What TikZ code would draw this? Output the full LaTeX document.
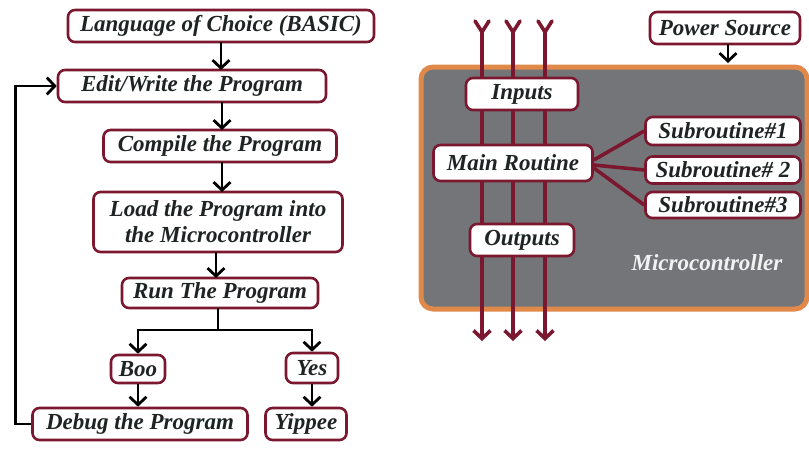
\documentclass[tikz,border=0pt]{standalone}
\usepackage{fontspec}
\setmainfont{Liberation Serif}
\usetikzlibrary{arrows.meta}
\definecolor{dred}{HTML}{7B1830}
\definecolor{mgray}{HTML}{737578}
\definecolor{morange}{HTML}{E0894A}
\definecolor{txt}{HTML}{1E2424}
\tikzset{
  box/.style={draw=dred, line width=2.6pt, fill=white, rounded corners=7pt, inner sep=0pt,
    font=\fontsize{23}{26}\selectfont\bfseries\itshape, text=txt, align=center},
  blk/.style={line width=2.8pt, -{Straight Barb[length=8pt,width=17pt]}},
  blkline/.style={line width=2.8pt},
  rline/.style={draw=dred, line width=3.6pt},
  rarrow/.style={draw=dred, line width=3.6pt, -{Straight Barb[length=8pt,width=17pt]}},
}
\begin{document}
\begin{tikzpicture}[x=1pt,y=-1pt]
\useasboundingbox (0,0) rectangle (809,450);
% ---------- left flowchart ----------
\node[box, minimum width=306pt, minimum height=32pt] (lang) at (221,26) {Language of Choice (BASIC)};
\node[box, minimum width=268pt, minimum height=32pt] (edit) at (192,86) {Edit/Write the Program};
\node[box, minimum width=233pt, minimum height=32pt] (comp) at (220,146) {Compile the Program};
\node[box, minimum width=249pt, minimum height=60pt] (load) at (218,222) {Load the Program into\\the Microcontroller};
\node[box, minimum width=196pt, minimum height=30pt] (run) at (220,293) {Run The Program};
\node[box, minimum width=54pt, minimum height=28pt] (boo) at (138,369) {Boo};
\node[box, minimum width=52pt, minimum height=30pt] (yes) at (312,368) {Yes};
\node[box, minimum width=215pt, minimum height=32pt] (debug) at (140,424) {Debug the Program};
\node[box, minimum width=81pt, minimum height=32pt] (yip) at (306,424) {Yippee};

\draw[blk] (221,42) -- (221,70);
\draw[blk] (222,102) -- (222,130);
\draw[blk] (222,162) -- (222,192);
\draw[blk] (216,252) -- (216,278);
\draw[blkline] (218,308) -- (218,330) coordinate (br);
\draw[blk] (br) -| (boo.north);
\draw[blk] (br) -| (yes.north);
\draw[blk] (boo.south) -- (debug.north -| boo.south);
\draw[blk] (yes.south) -- (yip.north -| yes.south);
\draw[blk] (debug.west) -- ++(-16,0) |- (edit.west);

% ---------- right: microcontroller ----------
\node[draw=morange, line width=5pt, fill=mgray, rounded corners=12pt,
  minimum width=386pt, minimum height=242pt, inner sep=0pt] (mc) at (614,188) {};
\node[font=\fontsize{23}{26}\selectfont\bfseries\itshape, text=white!90!gray] (mclabel) at (707,263) {Microcontroller};

\node[box, minimum width=150pt, minimum height=32pt] (power) at (725,28) {Power Source};
\draw[blk] (728,44) -- (728,63);

\foreach \i/\xx in {1/482,2/513,3/545}{
  \coordinate (top\i) at (\xx,32);
  \coordinate (bot\i) at (\xx,341);
  \draw[rline, line cap=round, line join=round] (\xx-7,21) -- (top\i) -- (\xx+7,21);
  \draw[rarrow] (top\i) -- (bot\i);
}

\node[box, minimum width=112pt, minimum height=32pt] (inp) at (522,94) {Inputs};
\node[box, minimum width=159pt, minimum height=36pt] (main) at (513,163) {Main Routine};
\node[box, minimum width=104pt, minimum height=32pt] (outp) at (522,240) {Outputs};

\node[box, minimum width=155pt, minimum height=28pt] (s1) at (723,131) {Subroutine\#1};
\node[box, minimum width=155pt, minimum height=27pt] (s2) at (723,170) {Subroutine\# 2};
\node[box, minimum width=155pt, minimum height=26pt] (s3) at (723,205) {Subroutine\#3};

\draw[rline] (main.east) ++(0,-3) -- (s1.west);
\draw[rline] (main.east) ++(0,2) -- (s2.west);
\draw[rline] (main.east) ++(0,5) -- (s3.west);
\end{tikzpicture}
\end{document}
